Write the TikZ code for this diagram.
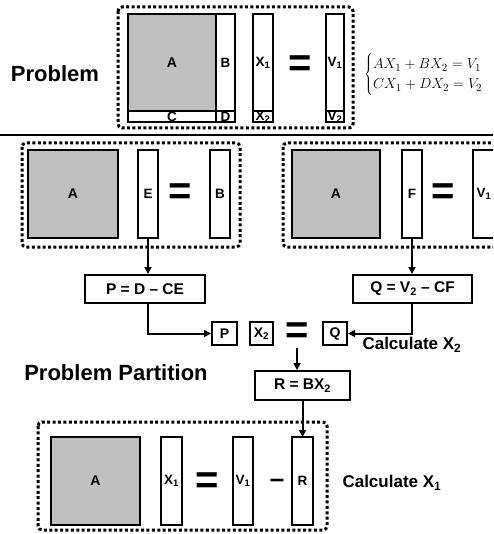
\documentclass[tikz,border=0pt]{standalone}
\usepackage{fontspec}
\setmainfont{Liberation Sans}
\usetikzlibrary{arrows.meta, positioning}

\begin{document}
\begin{tikzpicture}[
    x=1pt, y=-1pt,
    amat/.style={draw, line width=2pt, fill=gray!50, inner sep=0pt, outer sep=0pt,
                 font=\bfseries\fontsize{14}{14}\selectfont},
    vbar/.style={draw, line width=2pt, fill=white, inner sep=0pt, outer sep=0pt,
                 font=\bfseries\fontsize{13.5}{13.5}\selectfont},
    fbox/.style={draw, line width=2pt, fill=white, inner sep=0pt, minimum height=28pt,
                 font=\bfseries\fontsize{15.5}{15.5}\selectfont},
    sbox/.style={draw, line width=2pt, fill=white, inner sep=0pt, minimum width=24pt,
                 minimum height=23pt, font=\bfseries\fontsize{14}{14}\selectfont},
    eqsign/.style={font=\bfseries\fontsize{40}{40}\selectfont, inner sep=0pt},
    dotframe/.style={line width=3pt, dash pattern=on 3pt off 2.4pt, rounded corners=4pt},
    ttl/.style={font=\bfseries\fontsize{22}{22}\selectfont},
    note/.style={font=\bfseries\fontsize{17}{17}\selectfont, anchor=west},
    arr/.style={-{Triangle[length=7pt, width=7pt]}, line width=2pt},
  ]
    \clip (0,0) rectangle (493,534);

    % Problem
    \node[ttl] (prob) at (55,74) {Problem};
    \draw[dotframe] (118,7) rectangle (353,128);
    \node[amat, minimum width=88pt, minimum height=97pt] (A0) at (172,62.5) {A};
    \node[vbar, minimum width=19pt, minimum height=97pt, right=0pt of A0] (B0) {B};
    \node[vbar, minimum width=88pt, minimum height=11pt, below=0pt of A0] (C0) {C};
    \node[vbar, minimum width=19pt, minimum height=11pt, below=0pt of B0] (D0) {D};
    \node[vbar, minimum width=20pt, minimum height=97pt] (X1) at (263,62.5) {X\textsubscript{1}};
    \node[vbar, minimum width=20pt, minimum height=11pt, below=0pt of X1] (X2) {X\textsubscript{2}};
    \node[eqsign] (eq0) at (300,66) {=};
    \node[vbar, minimum width=18pt, minimum height=97pt] (V1) at (335,62.5) {V\textsubscript{1}};
    \node[vbar, minimum width=18pt, minimum height=11pt, below=0pt of V1] (V2) {V\textsubscript{2}};
    \node[anchor=west, inner sep=0pt, font=\fontsize{15.5}{20}\selectfont] (sys) at (364,75)
      {$\left\{\begin{array}{@{}l@{}} AX_1+BX_2=V_1\\ CX_1+DX_2=V_2 \end{array}\right.$};

    \draw[line width=2.8pt] (0,135) -- (493,135);

    % Calculate E and F
    \draw[dotframe] (22,143) rectangle (240,247);
    \node[amat, minimum width=90pt, minimum height=88pt] (A1) at (73,194) {A};
    \node[vbar, minimum width=20pt, minimum height=88pt] (E) at (148,194) {E};
    \node[eqsign] (eq1) at (180,194) {=};
    \node[vbar, minimum width=20pt, minimum height=88pt] (B1) at (220,194) {B};

    \draw[dotframe] (283,143) rectangle (520,247);
    \node[amat, minimum width=88pt, minimum height=88pt] (A2) at (336,194) {A};
    \node[vbar, minimum width=20pt, minimum height=88pt] (F) at (412,194) {F};
    \node[eqsign] (eq2) at (443,194) {=};
    \node[vbar, minimum width=22pt, minimum height=88pt] (V1b) at (484,194) {V\textsubscript{1}};

    \node[fbox, minimum width=120pt] (P) at (145,289) {P = D -- CE};
    \node[fbox, minimum width=119pt] (Q) at (412.5,289) {Q = V\textsubscript{2} -- CF};

    \draw[arr] (E.south) -- (E.south |- P.north);
    \draw[arr] (F.south) -- (F.south |- Q.north);

    % Calculate X2
    \node[sbox, minimum width=25pt] (sP) at (224.5,333.5) {P};
    \node[sbox, minimum width=23pt] (sX) at (261.5,333.5) {X\textsubscript{2}};
    \node[eqsign] (eq3) at (297,333) {=};
    \node[sbox] (sQ) at (335,333.5) {Q};
    \node[note] (calc2) at (359,345) {Calculate X\textsubscript{2}};

    \draw[arr] (E.south |- P.south) |- (sP.west);
    \draw[arr] (F.south |- Q.south) |- (sQ.east);

    \node[ttl] (part) at (116,373) {Problem Partition};
    \node[fbox, minimum width=95pt, minimum height=29pt] (R) at (302.5,385.5) {R = BX\textsubscript{2}};
    \draw[arr] (eq3.south) ++(0,4) coordinate (eqb) -- (eqb |- R.north);

    % Calculate X1
    \draw[dotframe] (38,422) rectangle (327,530);
    \node[amat, minimum width=89pt, minimum height=88pt] (A3) at (95.5,481) {A};
    \node[vbar, minimum width=21pt, minimum height=88pt] (X1b) at (171.5,481) {X\textsubscript{1}};
    \node[eqsign] (eq4) at (207,483) {=};
    \node[vbar, minimum width=20pt, minimum height=88pt] (V1c) at (243,481) {V\textsubscript{1}};
    \node[eqsign, font=\bfseries\fontsize{26}{26}\selectfont] (minus) at (277,483) {--};
    \node[vbar, minimum width=21pt, minimum height=88pt] (Rb) at (302.5,481) {R};
    \node[note] (calc1) at (339,483) {Calculate X\textsubscript{1}};

    \draw[arr] (R.south) -- (R.south |- Rb.north);
\end{tikzpicture}
\end{document}
